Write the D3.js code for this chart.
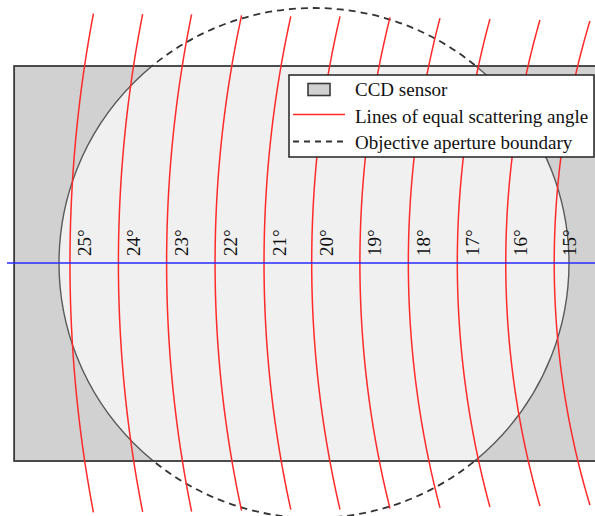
<!DOCTYPE html>
<html>
<head>
<meta charset="utf-8">
<script src="https://cdn.jsdelivr.net/npm/d3@7"></script>
<style>
  html, body { margin: 0; padding: 0; background: #fff; }
  svg { display: block; }
</style>
</head>
<body>
<svg id="chart" width="595" height="516"></svg>
<script>
// Back-focal-plane geometry, in units of the objective aperture radius
// (aperture centred at the origin).
const angles = [25, 24, 23, 22, 21, 20, 19, 18, 17, 16, 15];
// where each equal-angle curve crosses the horizontal axis
const axisU  = [-0.957, -0.767, -0.578, -0.388, -0.196, -0.009, 0.180, 0.370, 0.562, 0.752, 0.942];
// horizontal position of each curve's end points
const endU   = [-0.865, -0.672, -0.480, -0.284, -0.091, 0.102, 0.298, 0.494, 0.690, 0.886, 1.082];
// vertical half-extent of each curve
const endV   = [0.978, 0.976, 0.975, 0.971, 0.967, 0.967, 0.963, 0.960, 0.957, 0.953, 0.949];

const sensorU = [-1.176, 1.30];
const sensorV = [-0.7765, 0.7725];
const apertureR = 1;
const axisLineU = [-1.204, 1.30];

const legendLabels = ["CCD sensor", "Lines of equal scattering angle", "Objective aperture boundary"];

const svg = d3.select("#chart");
const x = d3.scaleLinear().domain([-1, 1]).range([59, 569]);
const y = d3.scaleLinear().domain([-1, 1]).range([518, 8]);
const r = v => x(v) - x(0);

const defs = svg.append("defs");
// inside of the sensor
defs.append("clipPath").attr("id", "inSensor")
  .append("rect")
  .attr("x", x(sensorU[0])).attr("y", y(sensorV[1]))
  .attr("width", x(sensorU[1]) - x(sensorU[0]))
  .attr("height", y(sensorV[0]) - y(sensorV[1]));
// everything outside the sensor
defs.append("clipPath").attr("id", "outSensor")
  .append("path")
  .attr("clip-rule", "evenodd")
  .attr("d", `M-10,-10H700V600H-10Z M${x(sensorU[0])},${y(sensorV[1])}H${x(sensorU[1])}V${y(sensorV[0])}H${x(sensorU[0])}Z`);

// CCD sensor
svg.append("rect")
  .attr("x", x(sensorU[0])).attr("y", y(sensorV[1]))
  .attr("width", x(sensorU[1]) - x(sensorU[0]))
  .attr("height", y(sensorV[0]) - y(sensorV[1]))
  .attr("fill", "#d1d1d1");

// illuminated part of the sensor (inside the aperture)
svg.append("circle")
  .attr("cx", x(0)).attr("cy", y(0)).attr("r", r(apertureR))
  .attr("fill", "#f0f0f0")
  .attr("stroke", "#5a5a5a").attr("stroke-width", 1.4)
  .attr("clip-path", "url(#inSensor)");

svg.append("rect")
  .attr("x", x(sensorU[0])).attr("y", y(sensorV[1]))
  .attr("width", x(sensorU[1]) - x(sensorU[0]))
  .attr("height", y(sensorV[0]) - y(sensorV[1]))
  .attr("fill", "none").attr("stroke", "#3a3a3a").attr("stroke-width", 1.8);

// aperture boundary beyond the sensor
svg.append("circle")
  .attr("cx", x(0)).attr("cy", y(0)).attr("r", r(apertureR))
  .attr("fill", "none")
  .attr("stroke", "#333").attr("stroke-width", 1.8)
  .attr("stroke-dasharray", "7,5")
  .attr("clip-path", "url(#outSensor)");

// Lines of equal scattering angle: circular arcs through the axis crossing
// and the two end points.
const line = d3.line().x(d => x(d[0])).y(d => y(d[1]));
const curves = angles.map((a, i) => {
  const s = endU[i] - axisU[i];
  const h = endV[i];
  const R = (h * h + s * s) / (2 * s);
  const cu = axisU[i] + R;
  const pts = d3.range(0, 81).map(k => {
    const v = -h + (2 * h) * k / 80;
    return [cu - Math.sqrt(R * R - v * v), v];
  });
  return { angle: a, pts };
});

svg.append("g").selectAll("path")
  .data(curves).join("path")
  .attr("d", d => line(d.pts))
  .attr("fill", "none")
  .attr("stroke", "#ff2a2a").attr("stroke-width", 1.5);

// optical axis
svg.append("line")
  .attr("x1", x(axisLineU[0])).attr("x2", x(axisLineU[1]))
  .attr("y1", y(0)).attr("y2", y(0))
  .attr("stroke", "#2a2aff").attr("stroke-width", 1.5);

// angle labels
svg.append("g").selectAll("text")
  .data(angles).join("text")
  .attr("transform", (a, i) => `translate(${x(axisU[i]) + 21.5},${y(0) - 7}) rotate(-90)`)
  .attr("font-family", "'Liberation Serif', 'Times New Roman', serif")
  .attr("font-size", 19)
  .attr("fill", "#111")
  .text(a => a + "°");

// legend
const lg = svg.append("g");
lg.append("rect")
  .attr("x", 289).attr("y", 75).attr("width", 305).attr("height", 82)
  .attr("fill", "#fff").attr("stroke", "#222").attr("stroke-width", 1.5);
lg.append("rect")
  .attr("x", 308).attr("y", 83.5).attr("width", 22).attr("height", 12)
  .attr("fill", "#d1d1d1").attr("stroke", "#3a3a3a").attr("stroke-width", 1.6);
lg.append("line")
  .attr("x1", 293).attr("x2", 345).attr("y1", 114.5).attr("y2", 114.5)
  .attr("stroke", "#ff2a2a").attr("stroke-width", 1.5);
lg.append("line")
  .attr("x1", 293).attr("x2", 345).attr("y1", 141.5).attr("y2", 141.5)
  .attr("stroke", "#333").attr("stroke-width", 1.8).attr("stroke-dasharray", "6,5");
lg.selectAll("text.lab")
  .data(legendLabels).join("text")
  .attr("class", "lab")
  .attr("x", 355)
  .attr("y", (d, i) => 96 + i * 26.5)
  .attr("font-family", "'Liberation Serif', 'Times New Roman', serif")
  .attr("font-size", 19)
  .attr("fill", "#111")
  .text(d => d);
</script>
</body>
</html>
